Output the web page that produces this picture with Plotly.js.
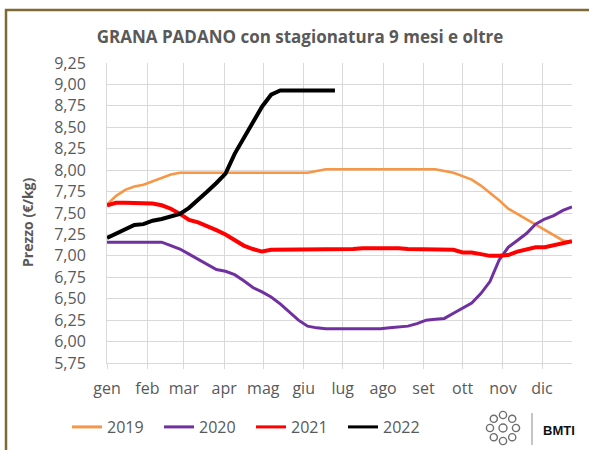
<!DOCTYPE html>
<html>
<head>
<meta charset="utf-8">
<script src="https://cdn.plot.ly/plotly-3.0.1.min.js"></script>
<style>
  html, body { margin: 0; padding: 0; background: #ffffff; }
  #chart { width: 589px; height: 450px; }
</style>
</head>
<body>
<div id="chart"></div>
<script>
// Weekly prices (€/kg), first week starting 1 January
const seriesNames = ['2019', '2020', '2021', '2022'];
const p2019 = [7.60, 7.70, 7.77, 7.81, 7.83, 7.87, 7.91, 7.95, 7.97,
  7.97, 7.97, 7.97, 7.97, 7.97, 7.97, 7.97, 7.97, 7.97, 7.97, 7.97, 7.97, 7.97, 7.97,
  7.99,
  8.01, 8.01, 8.01, 8.01, 8.01, 8.01, 8.01, 8.01, 8.01, 8.01, 8.01, 8.01,
  8.01, 7.99, 7.97, 7.93, 7.89, 7.82, 7.74, 7.65, 7.55, 7.49, 7.42, 7.36, 7.30, 7.24, 7.18, 7.16];
const p2020 = [7.16, 7.16, 7.16, 7.16, 7.16, 7.16, 7.16,
  7.12, 7.08, 7.02, 6.96, 6.90, 6.84, 6.82, 6.78, 6.71, 6.63, 6.58, 6.52, 6.44, 6.35, 6.25, 6.18, 6.16,
  6.15, 6.15, 6.15, 6.15, 6.15, 6.15,
  6.15, 6.16, 6.17, 6.18, 6.21, 6.25, 6.26, 6.27, 6.33, 6.39, 6.45, 6.56, 6.70, 6.95, 7.10, 7.18,
  7.26, 7.37, 7.43, 7.47, 7.53, 7.57];
const p2021 = [7.59, 7.62, 7.62, 7.62, 7.62, 7.61, 7.59, 7.55, 7.49, 7.42, 7.39, 7.35, 7.30, 7.25,
  7.18, 7.12, 7.08, 7.05, 7.07,
  7.07, 7.07, 7.07, 7.07, 7.07, 7.07, 7.07,
  7.08, 7.08, 7.09, 7.09, 7.09, 7.10, 7.09, 7.08, 7.08, 7.08, 7.08, 7.08, 7.07, 7.04, 7.04, 7.02,
  7.00, 7.00, 7.01, 7.05, 7.08, 7.10, 7.10, 7.12, 7.14, 7.17];
const p2022 = [7.21, 7.26, 7.31, 7.36, 7.37, 7.41, 7.43, 7.46, 7.49, 7.56, 7.65, 7.75, 7.85, 7.96,
  8.19, 8.38, 8.56, 8.74, 8.88, 8.93, 8.93, 8.93, 8.93, 8.93, 8.93, 8.93];

const monthTicks = ['2019-01-01', '2019-02-01', '2019-03-01', '2019-04-01', '2019-05-01', '2019-06-01',
  '2019-07-01', '2019-08-01', '2019-09-01', '2019-10-01', '2019-11-01', '2019-12-01'];
const monthLabels = ['gen', 'feb', 'mar', 'apr', 'mag', 'giu', 'lug', 'ago', 'set', 'ott', 'nov', 'dic'];

const colors = ['#F79646', '#7030A0', '#FF0000', '#000000'];
const widths = [2.6, 3, 4, 4];
const values = [p2019, p2020, p2021, p2022];
const WEEK = 7 * 24 * 3600 * 1000;

const traces = values.map((v, i) => ({
  type: 'scatter', mode: 'lines', name: seriesNames[i],
  x0: '2019-01-01', dx: WEEK, y: v,
  line: { color: colors[i], width: widths[i], shape: 'linear' },
  showlegend: false, hoverinfo: 'skip'
}));
// legend entries (uniform thin line samples as in the original)
seriesNames.forEach((n, i) => traces.push({
  type: 'scatter', mode: 'lines', name: n, x: [null], y: [null],
  line: { color: colors[i], width: 3 }, showlegend: true, hoverinfo: 'skip'
}));

const gray = '#595959';
const grid = '#D9D9D9';

// plot area in pixels: left 107, right 572, top 63, bottom 363
const L = 107, R = 572, T = 63, B = 363;
const px = x => (x - L) / (R - L);
const py = y => (B - y) / (B - T);

const shapes = [
  // outer frame (left + top)
  { type: 'path', xref: 'paper', yref: 'paper',
    path: `M ${px(6)} ${py(460)} L ${px(6)} ${py(10)} L ${px(600)} ${py(10)}`,
    line: { color: '#7F6A36', width: 2.5 } },
  // logo separator
  { type: 'line', xref: 'paper', yref: 'paper', x0: px(532), x1: px(532), y0: py(413), y1: py(445),
    line: { color: '#8c8c8c', width: 1 } }
];
// swirl logo approximation
const cx = 503, cy = 428;
for (let k = 0; k < 8; k++) {
  const a = k * Math.PI / 4;
  const x = cx + 13 * Math.cos(a), y = cy + 13 * Math.sin(a);
  shapes.push({ type: 'circle', xref: 'paper', yref: 'paper',
    x0: px(x - 3.6), x1: px(x + 3.6), y0: py(y + 3.6), y1: py(y - 3.6),
    line: { color: '#6e6e6e', width: 1.4 } });
}
shapes.push({ type: 'circle', xref: 'paper', yref: 'paper',
  x0: px(cx - 4), x1: px(cx + 4), y0: py(cy + 4), y1: py(cy - 4),
  line: { color: '#6e6e6e', width: 1.4 } });

const layout = {
  width: 589, height: 450,
  margin: { l: L, r: 589 - R, t: T, b: 450 - B, pad: 0, autoexpand: false },
  paper_bgcolor: '#ffffff', plot_bgcolor: '#ffffff',
  separators: ',.',
  font: { family: 'Open Sans, sans-serif', color: gray, size: 16 },
  title: { text: '<b>GRANA PADANO con stagionatura 9 mesi e oltre</b>',
    font: { family: 'Open Sans, sans-serif', size: 17, color: gray },
    x: 300 / 589, xref: 'container', xanchor: 'center', y: 1 - 37 / 450, yanchor: 'middle' },
  xaxis: {
    type: 'date', range: ['2019-01-01', '2019-12-24'],
    tickmode: 'array', tickvals: monthTicks, ticktext: monthLabels,
    showgrid: true, gridcolor: grid, gridwidth: 1,
    showline: true, linecolor: grid, linewidth: 1,
    ticks: 'outside', ticklen: 5, tickcolor: grid, ticklabelstandoff: 6,
    tickfont: { size: 16, color: gray }, zeroline: false, fixedrange: true
  },
  yaxis: {
    range: [5.75, 9.25], dtick: 0.25, tick0: 5.75, tickformat: '.2f',
    showgrid: true, gridcolor: grid, gridwidth: 1,
    showline: true, linecolor: grid, linewidth: 1, ticks: '',
    ticklabelstandoff: 17,
    tickfont: { size: 16, color: gray }, zeroline: false, fixedrange: true
  },
  showlegend: true,
  legend: { orientation: 'h', xref: 'container', yref: 'container',
    x: 67 / 589, xanchor: 'left', y: 1 - 427 / 450, yanchor: 'middle',
    font: { size: 16, color: gray }, bgcolor: 'rgba(0,0,0,0)', itemwidth: 30,
    entrywidth: 47, entrywidthmode: 'pixels', tracegroupgap: 0 },
  shapes: shapes,
  annotations: [
    { text: '<b>Prezzo (€/kg)</b>', xref: 'paper', yref: 'paper', x: px(27), y: py(222),
      xanchor: 'center', yanchor: 'middle', textangle: -90, showarrow: false,
      font: { family: 'Open Sans, sans-serif', size: 14, color: gray } },
    { text: '<b>BMTI</b>', xref: 'paper', yref: 'paper', x: px(559), y: py(430),
      xanchor: 'center', yanchor: 'middle', showarrow: false,
      font: { family: 'Liberation Sans, Arial, sans-serif', size: 13, color: '#111111' } }
  ]
};

Plotly.newPlot('chart', traces, layout, { staticPlot: true, displayModeBar: false });
</script>
</body>
</html>
